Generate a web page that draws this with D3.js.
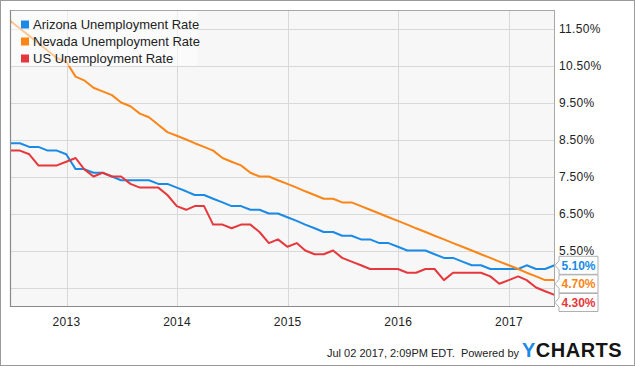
<!DOCTYPE html>
<html><head><meta charset="utf-8">
<script src="https://cdn.jsdelivr.net/npm/d3@7"></script>
<style>
body{margin:0;background:#fff;}
svg{display:block;font-family:"Liberation Sans",Arial,Helvetica,sans-serif;}
</style>
</head><body>
<svg id="chart" width="635" height="366"></svg>
<script>
// ---- data (monthly, Jun 2012 .. May 2017) ----
const seriesNames = ["Arizona Unemployment Rate", "Nevada Unemployment Rate", "US Unemployment Rate"];
const startMonth = [2012, 5]; // June 2012
const arizona = [8.4,8.4,8.3,8.3,8.2,8.2,8.1,
  7.7,7.7,7.6,7.6,7.5,7.4,7.4,7.4,7.4,7.3,7.3,7.2,
  7.1,7.0,7.0,6.9,6.8,6.7,6.7,6.6,6.6,6.5,6.5,6.4,
  6.3,6.2,6.1,6.0,6.0,5.9,5.9,5.8,5.8,5.7,5.7,5.6,
  5.5,5.5,5.5,5.4,5.3,5.3,5.2,5.1,5.1,5.0,5.0,5.0,
  5.0,5.1,5.0,5.0,5.1];
const nevada = [11.7,11.5,11.3,11.1,10.9,10.7,10.6,
  10.2,10.1,9.9,9.8,9.7,9.5,9.4,9.2,9.1,8.9,8.7,8.6,
  8.5,8.4,8.3,8.2,8.0,7.9,7.8,7.6,7.5,7.5,7.4,7.3,
  7.2,7.1,7.0,6.9,6.9,6.8,6.8,6.7,6.6,6.5,6.4,6.3,
  6.2,6.1,6.0,5.9,5.8,5.7,5.6,5.5,5.4,5.3,5.2,5.1,
  5.0,4.9,4.8,4.7,4.7];
const us = [8.2,8.2,8.1,7.8,7.8,7.8,7.9,
  8.0,7.7,7.5,7.6,7.5,7.5,7.3,7.2,7.2,7.2,7.0,6.7,
  6.6,6.7,6.7,6.2,6.2,6.1,6.2,6.2,6.0,5.7,5.8,5.6,
  5.7,5.5,5.4,5.4,5.5,5.3,5.2,5.1,5.0,5.0,5.0,5.0,
  4.9,4.9,5.0,5.0,4.7,4.9,4.9,4.9,4.9,4.8,4.6,4.7,
  4.8,4.7,4.5,4.4,4.3];
const colors = ["#1a8ae6", "#fb8517", "#e6383c"];
const xTickYears = [2013, 2014, 2015, 2016, 2017];
const yTicks = [4.5, 5.5, 6.5, 7.5, 8.5, 9.5, 10.5, 11.5];
const footerText = "Jul 02 2017, 2:09PM EDT.  Powered by";

// ---- layout ----
const W = 635, H = 366;
const L = 10.5, R = 554.5, T = 10, B = 306;
const svg = d3.select("#chart");

const dates = arizona.map((_, i) => new Date(startMonth[0], startMonth[1] + i + 1, 0));
const x = d3.scaleTime().domain([dates[0], dates[dates.length - 1]]).range([L, R]);
const y = d3.scaleLinear().domain([4, 12]).range([B, T]);

// outer border
svg.append("rect").attr("x", 0.5).attr("y", 0.5).attr("width", W - 1).attr("height", H - 1)
  .attr("fill", "#fff").attr("stroke", "#9a9a9a");

// plot background
svg.append("rect").attr("x", L).attr("y", T).attr("width", R - L).attr("height", B - T)
  .attr("fill", "#f7f7f7");

// gridlines
const gx = svg.append("g").attr("transform", `translate(0,${B})`)
  .call(d3.axisBottom(x).tickValues(xTickYears.map(yr => new Date(yr, 0, 1)))
    .tickSize(-(B - T)).tickFormat(""));
gx.select(".domain").remove();
gx.selectAll("line").attr("stroke", "#d8d8d8").attr("shape-rendering", "crispEdges");

const gy = svg.append("g").attr("transform", `translate(${L},0)`)
  .call(d3.axisLeft(y).tickValues(yTicks).tickSize(-(R - L)).tickFormat(""));
gy.select(".domain").remove();
gy.selectAll("line").attr("stroke", "#d8d8d8").attr("shape-rendering", "crispEdges");

// lines
svg.append("clipPath").attr("id", "clip").append("rect")
  .attr("x", L).attr("y", T).attr("width", R - L).attr("height", B - T);
const allSeries = [arizona, nevada, us];
const line = d3.line().x((d, i) => x(dates[i])).y(d => y(d));
const linesG = svg.append("g").attr("clip-path", "url(#clip)");
[0, 1, 2].forEach(k => {
  linesG.append("path").datum(allSeries[k]).attr("d", line)
    .attr("fill", "none").attr("stroke", colors[k]).attr("stroke-width", 2)
    .attr("stroke-linejoin", "round");
});

// plot border
svg.append("rect").attr("x", L).attr("y", T + 0.5).attr("width", R - L).attr("height", B - T)
  .attr("fill", "none").attr("stroke", "#a8a8a8").attr("shape-rendering", "crispEdges");
svg.append("path").attr("d", `M${L},${T}V${B + 0.5}H${R}`)
  .attr("fill", "none").attr("stroke", "#8a8a8a").attr("stroke-width", 1.2);

// legend
const lg = svg.append("g");
lg.append("rect").attr("x", L + 1).attr("y", T + 1).attr("width", 186).attr("height", 55)
  .attr("fill", "#fff").attr("opacity", 0.55);
seriesNames.forEach((n, i) => {
  const cy = 24.5 + i * 17;
  lg.append("rect").attr("x", 21).attr("y", cy - 4).attr("width", 8).attr("height", 8).attr("fill", colors[i]);
  lg.append("text").attr("x", 33).attr("y", cy + 4.5).attr("font-size", 13).attr("fill", "#222").text(n);
});

// end labels (positions resolved to avoid overlap)
const lastVals = allSeries.map(s => s[s.length - 1]);
const order = d3.range(3).sort((a, b) => lastVals[b] - lastVals[a]);
const boxH = 18, gap = 0.6;
let prev = -Infinity;
const centers = [];
order.forEach(k => {
  let c = y(lastVals[k]);
  if (c < prev + boxH + gap) c = prev + boxH + gap;
  centers[k] = c; prev = c;
});
const bx = R + 4.5, bw = 39;
const lbG = svg.append("g");
order.forEach(k => {
  const c = centers[k], top = c - boxH / 2, bot = c + boxH / 2;
  lbG.append("path")
    .attr("d", `M${R + 0.5},${c}L${bx},${c - 4.5}V${top}H${bx + bw}V${bot}H${bx}V${c + 4.5}Z`)
    .attr("fill", "#fff").attr("stroke", "#b0b0b0");
  lbG.append("text").attr("x", bx + bw / 2).attr("y", c + 4.3).attr("text-anchor", "middle")
    .attr("font-size", 12).attr("font-weight", "bold").attr("fill", colors[k])
    .text(d3.format(".2f")(lastVals[k]) + "%");
});

// y tick labels (skip those hidden by end labels)
const fmt = v => d3.format(".2f")(v) + "%";
yTicks.forEach(v => {
  const ty = y(v);
  const hidden = centers.some(c => Math.abs(c - ty) < boxH / 2 + 4);
  if (hidden) return;
  svg.append("text").attr("x", 559).attr("y", ty + 4.5).attr("font-size", 12)
    .attr("fill", "#222").attr("letter-spacing", 0.3).text(fmt(v));
});

// x tick labels
xTickYears.forEach(yr => {
  svg.append("text").attr("x", x(new Date(yr, 0, 1))).attr("y", 325.5).attr("text-anchor", "middle")
    .attr("font-size", 12).attr("fill", "#222").attr("letter-spacing", 0.3).text(yr);
});

// footer
svg.append("text").attr("x", 519).attr("y", 357).attr("text-anchor", "end")
  .attr("font-size", 11).attr("fill", "#222").style("white-space", "pre").text(footerText);
const logo = svg.append("text").attr("x", 522).attr("y", 357).attr("font-size", 20)
  .attr("font-weight", "bold").attr("letter-spacing", 0.5);
logo.append("tspan").attr("fill", "#1a8ae6").text("Y");
logo.append("tspan").attr("fill", "#141414").text("CHARTS");
</script>
</body></html>
